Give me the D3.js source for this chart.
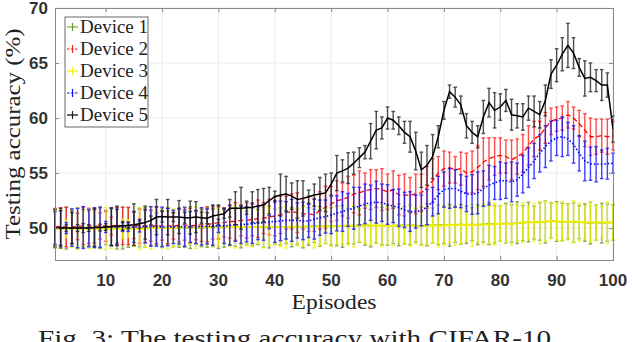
<!DOCTYPE html>
<head>
    <meta charset="utf-8">
    <style>
      body {
          margin: 0;
          background: #fff;
      }
      .tick-label {
          font-family: 'Liberation Sans', Arial, sans-serif;
          font-weight: bold;
          font-size: 17px;
          fill: #333;
      }
      .serif {
          font-family: 'Liberation Serif', 'Times New Roman', serif;
          fill: #222;
      }
  </style>
</head>
<body>
<svg id="chart" width="632" height="342"></svg>
<script src="https://cdnjs.cloudflare.com/ajax/libs/d3/7.8.5/d3.min.js"></script>
<script>
  // x categories and tick labels
  var episodes = d3.range(1, 101);
  var xTicks = [10, 20, 30, 40, 50, 60, 70, 80, 90, 100];
  var yTicks = [50, 55, 60, 65, 70];
  var deviceNames = ["Device 1", "Device 2", "Device 3", "Device 4", "Device 5"];

  // Device 1 (green)
  var dev1Mean = [50.0, 49.95, 50.0, 50.05, 50.0, 50.0, 49.95, 50.0, 50.05, 50.0,
    50.05, 50.0, 50.0, 50.05, 50.0, 50.0, 50.05, 50.05, 50.0, 50.05,
    50.05, 50.0, 50.05, 50.0, 50.05, 50.05, 50.0, 50.05, 50.1, 50.05,
    50.05, 50.1, 50.05, 50.1, 50.05, 50.1, 50.1, 50.05, 50.1, 50.1,
    50.15, 50.1, 50.1, 50.15, 50.1, 50.15, 50.2, 50.15, 50.2, 50.15,
    50.2, 50.15, 50.2, 50.25, 50.2, 50.25, 50.2, 50.25, 50.2, 50.25,
    50.2, 50.3, 50.25, 50.3, 50.25, 50.2, 50.3, 50.25, 50.3, 50.3,
    50.25, 50.3, 50.35, 50.3, 50.35, 50.3, 50.35, 50.4, 50.35, 50.4,
    50.45, 50.4, 50.5, 50.45, 50.55, 50.5, 50.6, 50.55, 50.7, 50.6,
    50.55, 50.6, 50.5, 50.55, 50.5, 50.45, 50.5, 50.45, 50.5, 50.5];
  var dev1Err = [1.8, 1.6, 1.9, 1.5, 1.8, 1.7, 1.6, 1.8, 1.9, 1.5,
    1.7, 1.9, 1.9, 1.8, 1.5, 1.7, 1.8, 1.6, 1.4, 1.7,
    1.5, 1.7, 1.8, 1.6, 1.9, 1.5, 1.7, 1.8, 1.6, 1.9,
    1.8, 1.6, 1.7, 1.9, 1.5, 1.7, 1.6, 1.8, 1.9, 1.6,
    1.7, 1.5, 1.8, 1.6, 1.9, 1.7, 1.5, 1.8, 1.6, 1.7,
    1.8, 1.9, 1.6, 1.7, 1.5, 1.8, 1.9, 1.6, 1.7, 1.8,
    1.6, 1.9, 1.7, 1.8, 1.5, 1.7, 1.9, 1.6, 1.8, 1.7,
    1.9, 1.6, 1.8, 1.7, 1.5, 1.8, 1.6, 1.9, 1.7, 1.6,
    1.8, 1.7, 1.9, 1.6, 1.8, 1.5, 1.7, 1.9, 1.6, 1.8,
    1.7, 1.6, 1.8, 1.5, 1.7, 1.9, 1.6, 1.8, 1.7, 1.6];

  // Device 2 (red)
  var dev2Mean = [50.1, 50.15, 50.1, 50.1, 50.15, 50.2, 50.2, 50.15, 50.2, 50.2,
    50.2, 50.25, 50.2, 50.2, 50.25, 50.2, 50.2, 50.2, 50.2, 50.2,
    50.2, 50.2, 50.25, 50.3, 50.2, 50.25, 50.3, 50.35, 50.4, 50.5,
    50.5, 50.6, 50.6, 50.7, 50.7, 50.8, 50.85, 50.9, 51.0, 51.1,
    51.2, 51.4, 51.5, 51.4, 51.3, 51.3, 51.2, 51.6, 51.9, 52.2,
    52.5, 52.6, 52.8, 53.1, 53.2, 53.4, 53.5, 53.6, 53.5, 53.3,
    53.5, 53.0, 53.0, 53.0, 53.1, 53.2, 53.7, 54.3, 55.0, 55.4,
    55.5, 55.3, 55.4, 55.0, 55.1, 55.5, 56.0, 56.3, 56.5, 56.6,
    56.5, 56.2, 56.5, 56.8, 57.5, 58.1, 58.4, 59.1, 59.7, 59.9,
    60.0, 60.3, 60.0, 59.5, 58.9, 58.3, 58.3, 58.4, 58.3, 58.4];
  var dev2Err = [1.6, 1.7, 1.8, 1.5, 1.2, 1.7, 1.6, 1.5, 1.2, 1.4,
    0.8, 1.6, 1.7, 1.7, 1.2, 1.6, 1.5, 1.4, 1.7, 1.3,
    1.6, 1.2, 1.5, 1.4, 1.6, 1.3, 1.5, 1.6, 1.4, 1.5,
    1.3, 1.5, 1.7, 1.4, 1.6, 1.5, 1.7, 1.4, 1.6, 1.8,
    1.7, 1.5, 1.6, 1.8, 1.4, 1.6, 1.5, 1.7, 1.9, 1.6,
    1.8, 1.5, 1.9, 1.7, 2.0, 1.6, 1.8, 1.7, 1.9, 1.6,
    1.7, 1.8, 1.9, 1.6, 1.8, 1.7, 1.9, 2.0, 1.5, 1.6,
    1.4, 1.2, 1.5, 1.8, 1.9, 2.0, 2.2, 1.9, 1.7, 1.6,
    1.5, 1.8, 1.6, 1.7, 1.8, 1.6, 1.3, 1.4, 1.2, 1.1,
    1.1, 1.2, 1.0, 1.2, 1.5, 1.7, 1.6, 1.5, 1.6, 1.3];

  // Device 3 (yellow)
  var dev3Mean = [49.95, 49.95, 49.95, 49.95, 49.95, 49.95, 49.95, 49.95, 49.95, 49.95,
    49.95, 49.95, 49.95, 49.95, 49.95, 49.95, 49.95, 50.0, 50.0, 50.0,
    50.0, 50.0, 50.05, 50.05, 50.05, 50.05, 50.1, 50.1, 50.05, 50.1,
    50.1, 50.1, 50.1, 50.1, 50.1, 50.1, 50.1, 50.1, 50.15, 50.1,
    50.1, 50.1, 50.15, 50.1, 50.15, 50.15, 50.1, 50.15, 50.2, 50.15,
    50.2, 50.2, 50.25, 50.2, 50.25, 50.3, 50.25, 50.2, 50.25, 50.2,
    50.2, 50.25, 50.2, 50.25, 50.2, 50.2, 50.2, 50.25, 50.2, 50.25,
    50.3, 50.25, 50.3, 50.3, 50.25, 50.3, 50.35, 50.3, 50.35, 50.4,
    50.4, 50.35, 50.45, 50.5, 50.5, 50.55, 50.5, 50.6, 50.65, 50.6,
    50.6, 50.55, 50.6, 50.55, 50.5, 50.55, 50.5, 50.55, 50.5, 50.55];
  var dev3Err = [1.6, 1.8, 0.8, 1.7, 1.9, 1.6, 1.8, 1.5, 1.7, 1.9,
    1.8, 1.5, 0.9, 0.8, 1.6, 1.9, 1.7, 1.9, 1.6, 1.8,
    1.9, 1.7, 1.6, 1.8, 1.5, 1.9, 1.7, 1.6, 1.8, 1.7,
    1.5, 1.8, 1.9, 1.6, 1.7, 1.8, 1.5, 1.9, 1.7, 1.6,
    1.8, 1.9, 1.6, 1.7, 1.8, 1.5, 1.9, 1.7, 1.6, 1.8,
    1.7, 1.6, 1.8, 1.9, 1.5, 1.7, 1.8, 1.6, 1.9, 1.7,
    1.8, 1.5, 1.7, 1.9, 1.6, 1.8, 1.7, 1.6, 1.9, 1.8,
    1.6, 1.8, 1.7, 1.5, 1.9, 1.6, 1.8, 1.7, 1.9, 1.6,
    1.7, 1.9, 1.6, 1.8, 1.5, 1.7, 1.9, 1.8, 1.6, 1.7,
    1.8, 1.6, 1.9, 1.7, 1.5, 1.8, 1.6, 1.4, 1.9, 1.6];

  // Device 4 (blue)
  var dev4Mean = [50.0, 50.0, 50.0, 50.05, 50.0, 50.05, 50.0, 50.05, 50.05, 50.1,
    50.1, 50.1, 50.1, 50.1, 50.1, 50.15, 50.15, 50.15, 50.15, 50.1,
    50.1, 50.1, 50.15, 50.1, 50.1, 50.1, 50.15, 50.15, 50.2, 50.2,
    50.2, 50.25, 50.3, 50.3, 50.35, 50.4, 50.45, 50.5, 50.55, 50.6,
    50.65, 50.7, 50.7, 50.7, 50.65, 50.65, 50.8, 50.95, 51.05, 51.2,
    51.35, 51.5, 51.65, 51.8, 52.0, 52.2, 52.3, 52.35, 52.3, 52.15,
    52.0, 51.85, 51.65, 51.5, 51.5, 51.6, 51.9, 52.4, 53.0, 53.5,
    53.6, 53.6, 53.35, 53.1, 53.05, 53.2, 53.6, 53.9, 54.1, 54.3,
    54.3, 54.2, 54.4, 54.9, 55.5, 56.1, 56.8, 57.4, 57.9, 58.2,
    58.3, 58.1, 57.6, 56.8, 56.1, 55.85, 55.8, 55.8, 55.85, 55.9];
  var dev4Err = [1.5, 1.6, 0.5, 1.7, 1.8, 1.9, 1.7, 1.8, 1.8, 0.5,
    1.7, 1.6, 0.4, 0.4, 1.4, 0.5, 1.5, 1.8, 1.8, 1.8,
    1.7, 1.5, 1.6, 1.8, 1.4, 1.5, 1.7, 1.6, 1.8, 0.6,
    1.6, 1.8, 1.5, 1.7, 1.6, 1.8, 1.5, 1.6, 0.6, 1.9,
    1.8, 1.7, 1.9, 1.6, 1.7, 1.5, 1.8, 1.6, 1.5, 1.7,
    1.6, 1.8, 1.5, 1.9, 1.7, 1.8, 1.6, 1.9, 1.7, 1.8,
    1.5, 1.7, 1.6, 1.8, 1.5, 1.4, 1.6, 1.3, 1.7, 1.6,
    1.8, 1.7, 1.5, 1.6, 1.8, 1.9, 1.6, 1.8, 1.5, 1.7,
    1.6, 1.8, 1.5, 1.7, 1.8, 1.6, 1.7, 1.9, 1.8, 1.6,
    1.8, 1.5, 1.7, 1.6, 1.8, 1.5, 1.6, 1.3, 1.4, 0.9];

  // Device 5 (black)
  var dev5Mean = [50.0, 50.0, 50.0, 50.0, 50.0, 50.0, 50.0, 50.05, 50.05, 50.1,
    50.15, 50.2, 50.2, 50.25, 50.3, 50.4, 50.5, 50.7, 51.0, 51.05,
    51.0, 51.0, 51.0, 50.95, 50.95, 51.0, 50.95, 50.9, 51.1, 51.2,
    51.3, 51.8, 51.8, 51.8, 51.85, 51.9, 52.0, 52.1, 52.5, 52.85,
    53.0, 53.1, 52.9, 52.6, 52.7, 52.85, 53.0, 53.1, 53.2, 54.0,
    55.0, 55.2, 55.45, 55.9, 56.4, 56.9, 57.9, 58.9, 59.1, 60.0,
    59.8, 59.3, 58.7, 58.3, 57.0, 55.3, 55.7, 56.5, 58.3, 60.7,
    62.4, 61.9, 61.2, 59.3, 58.7, 58.3, 60.1, 61.4, 60.7, 61.0,
    61.6, 60.3, 60.2, 60.1, 60.9, 60.6, 60.3, 61.6, 64.0, 64.8,
    65.8, 66.6, 65.9, 64.6, 63.6, 63.7, 63.4, 63.0, 63.0, 59.0];
  var dev5Err = [1.7, 1.8, 0.3, 1.4, 0.3, 0.4, 0.3, 1.7, 0.3, 0.3,
    1.7, 1.8, 0.4, 0.3, 1.9, 0.4, 1.5, 0.4, 1.6, 0.5,
    1.6, 0.4, 1.5, 0.5, 1.5, 1.4, 0.5, 0.5, 1.0, 0.9,
    0.4, 0.8, 1.5, 1.9, 0.6, 1.4, 1.5, 1.5, 1.2, 0.5,
    1.9, 1.6, 1.2, 1.7, 1.6, 0.6, 1.0, 1.5, 1.7, 1.0,
    1.6, 1.0, 1.4, 1.0, 0.9, 0.6, 1.6, 1.7, 1.0, 1.0,
    0.8, 0.8, 1.0, 1.4, 1.7, 1.6, 1.8, 2.0, 1.0, 0.8,
    0.6, 0.9, 0.8, 1.1, 1.0, 1.0, 1.5, 1.3, 1.6, 1.2,
    1.0, 1.4, 1.1, 1.2, 1.1, 1.4, 1.2, 1.4, 1.3, 1.5,
    1.5, 2.0, 1.4, 0.8, 1.6, 1.3, 1.0, 1.4, 1.1, 1.2];

  var series = [
    { name: deviceNames[0], mean: dev1Mean, err: dev1Err, color: "#77AC30", bar: "#6a9a2a", dash: null, width: 1.3 },
    { name: deviceNames[1], mean: dev2Mean, err: dev2Err, color: "#ff0000", bar: "#ff2020", dash: "5,3", width: 1.3 },
    { name: deviceNames[2], mean: dev3Mean, err: dev3Err, color: "#eeee00", bar: "#f2f200", dash: null, width: 2 },
    { name: deviceNames[3], mean: dev4Mean, err: dev4Err, color: "#0000ff", bar: "#1010ff", dash: "1.5,2", width: 1.6 },
    { name: deviceNames[4], mean: dev5Mean, err: dev5Err, color: "#000000", bar: "#222222", dash: null, width: 1.5 }
  ];

  var svg = d3.select("#chart");
  var margin = { top: 8, right: 19, bottom: 82, left: 55 };
  var width = 632 - margin.left - margin.right;
  var height = 342 - margin.top - margin.bottom;

  var x = d3.scaleLinear().domain([1, 100]).range([0, width]);
  var y = d3.scaleLinear().domain([47.1, 70]).range([height, 0]);

  var g = svg.append("g").attr("transform", "translate(" + margin.left + "," + margin.top + ")");

  // grid
  g.append("g").selectAll("line.gx").data(xTicks).enter().append("line")
      .attr("x1", function(d) { return x(d); }).attr("x2", function(d) { return x(d); })
      .attr("y1", 0).attr("y2", height)
      .attr("stroke", "#ebebeb").attr("stroke-width", 1);
  g.append("g").selectAll("line.gy").data(yTicks).enter().append("line")
      .attr("y1", function(d) { return y(d); }).attr("y2", function(d) { return y(d); })
      .attr("x1", 0).attr("x2", width)
      .attr("stroke", "#ebebeb").attr("stroke-width", 1);

  g.append("defs").append("clipPath").attr("id", "clip")
    .append("rect").attr("x", -2).attr("y", 0).attr("width", width + 4).attr("height", height);

  var plot = g.append("g").attr("clip-path", "url(#clip)");

  var line = d3.line()
      .x(function(d, i) { return x(episodes[i]); })
      .y(function(d) { return y(d); });

  var cap = 1.8;
  series.forEach(function(s) {
    var sg = plot.append("g");
    var bars = sg.append("g").attr("stroke", s.bar).attr("stroke-width", 1.4).attr("opacity", 0.8);
    s.mean.forEach(function(m, i) {
      var xp = x(episodes[i]);
      var lo = y(m - s.err[i]), hi = y(m + s.err[i]);
      bars.append("line").attr("x1", xp).attr("x2", xp).attr("y1", lo).attr("y2", hi);
      bars.append("line").attr("x1", xp - cap).attr("x2", xp + cap).attr("y1", lo).attr("y2", lo);
      bars.append("line").attr("x1", xp - cap).attr("x2", xp + cap).attr("y1", hi).attr("y2", hi);
    });
    sg.append("path")
      .datum(s.mean)
      .attr("d", line)
      .attr("fill", "none")
      .attr("stroke", s.color)
      .attr("stroke-width", s.width)
      .attr("stroke-dasharray", s.dash);
  });

  // axes box
  var axisColor = "#8a8a8a";
  function styleAxis(a) {
    a.select(".domain").attr("stroke", axisColor);
    a.selectAll(".tick line").attr("stroke", axisColor);
  }
  g.append("g").attr("transform", "translate(0," + height + ")")
    .call(d3.axisBottom(x).tickValues(xTicks).tickSize(-4).tickFormat("")).call(styleAxis);
  g.append("g")
    .call(d3.axisTop(x).tickValues(xTicks).tickSize(-4).tickFormat("")).call(styleAxis);
  g.append("g")
    .call(d3.axisLeft(y).tickValues(yTicks).tickSize(-4).tickFormat("")).call(styleAxis);
  g.append("g").attr("transform", "translate(" + width + ",0)")
    .call(d3.axisRight(y).tickValues(yTicks).tickSize(-4).tickFormat("")).call(styleAxis);

  // tick labels
  g.selectAll("text.xl").data(xTicks).enter().append("text")
    .attr("class", "tick-label")
    .attr("x", function(d) { return x(d); })
    .attr("y", height + 26)
    .attr("text-anchor", "middle")
    .text(function(d) { return d; });
  g.selectAll("text.yl").data(yTicks).enter().append("text")
    .attr("class", "tick-label")
    .attr("x", -7)
    .attr("y", function(d) { return y(d) + 6; })
    .attr("text-anchor", "end")
    .text(function(d) { return d; });

  // axis titles
  svg.append("text").attr("class", "serif")
    .attr("x", margin.left + width / 2).attr("y", 309)
    .attr("text-anchor", "middle").attr("font-size", 22)
    .attr("textLength", 85).attr("lengthAdjust", "spacingAndGlyphs")
    .text("Episodes");
  svg.append("text").attr("class", "serif")
    .attr("transform", "translate(20," + (margin.top + height / 2) + ") rotate(-90)")
    .attr("text-anchor", "middle").attr("font-size", 22)
    .attr("textLength", 211).attr("lengthAdjust", "spacingAndGlyphs")
    .text("Testing accuracy (%)");

  // caption (cut by the bottom edge)
  svg.append("text").attr("class", "serif")
    .attr("x", 38).attr("y", 346)
    .attr("font-size", 24)
    .attr("textLength", 513).attr("lengthAdjust", "spacingAndGlyphs")
    .text("Fig. 3: The testing accuracy with CIFAR-10");

  // legend
  var lg = g.append("g").attr("transform", "translate(10,9)");
  lg.append("rect").attr("width", 83).attr("height", 110)
    .attr("fill", "#fff").attr("stroke", "#444").attr("stroke-width", 0.8);
  series.forEach(function(s, i) {
    var yy = 10 + i * 22;
    lg.append("line").attr("x1", 2).attr("x2", 13).attr("y1", yy).attr("y2", yy)
      .attr("stroke", s.color).attr("stroke-width", 1.2)
      .attr("stroke-dasharray", s.dash ? "2.5,1.5" : null);
    lg.append("line").attr("x1", 7.5).attr("x2", 7.5).attr("y1", yy - 4).attr("y2", yy + 4)
      .attr("stroke", s.bar).attr("stroke-width", 1.2);
    lg.append("text").attr("class", "serif")
      .attr("x", 15).attr("y", yy + 6)
      .attr("font-size", 19)
      .text(s.name);
  });
</script>
</body>
